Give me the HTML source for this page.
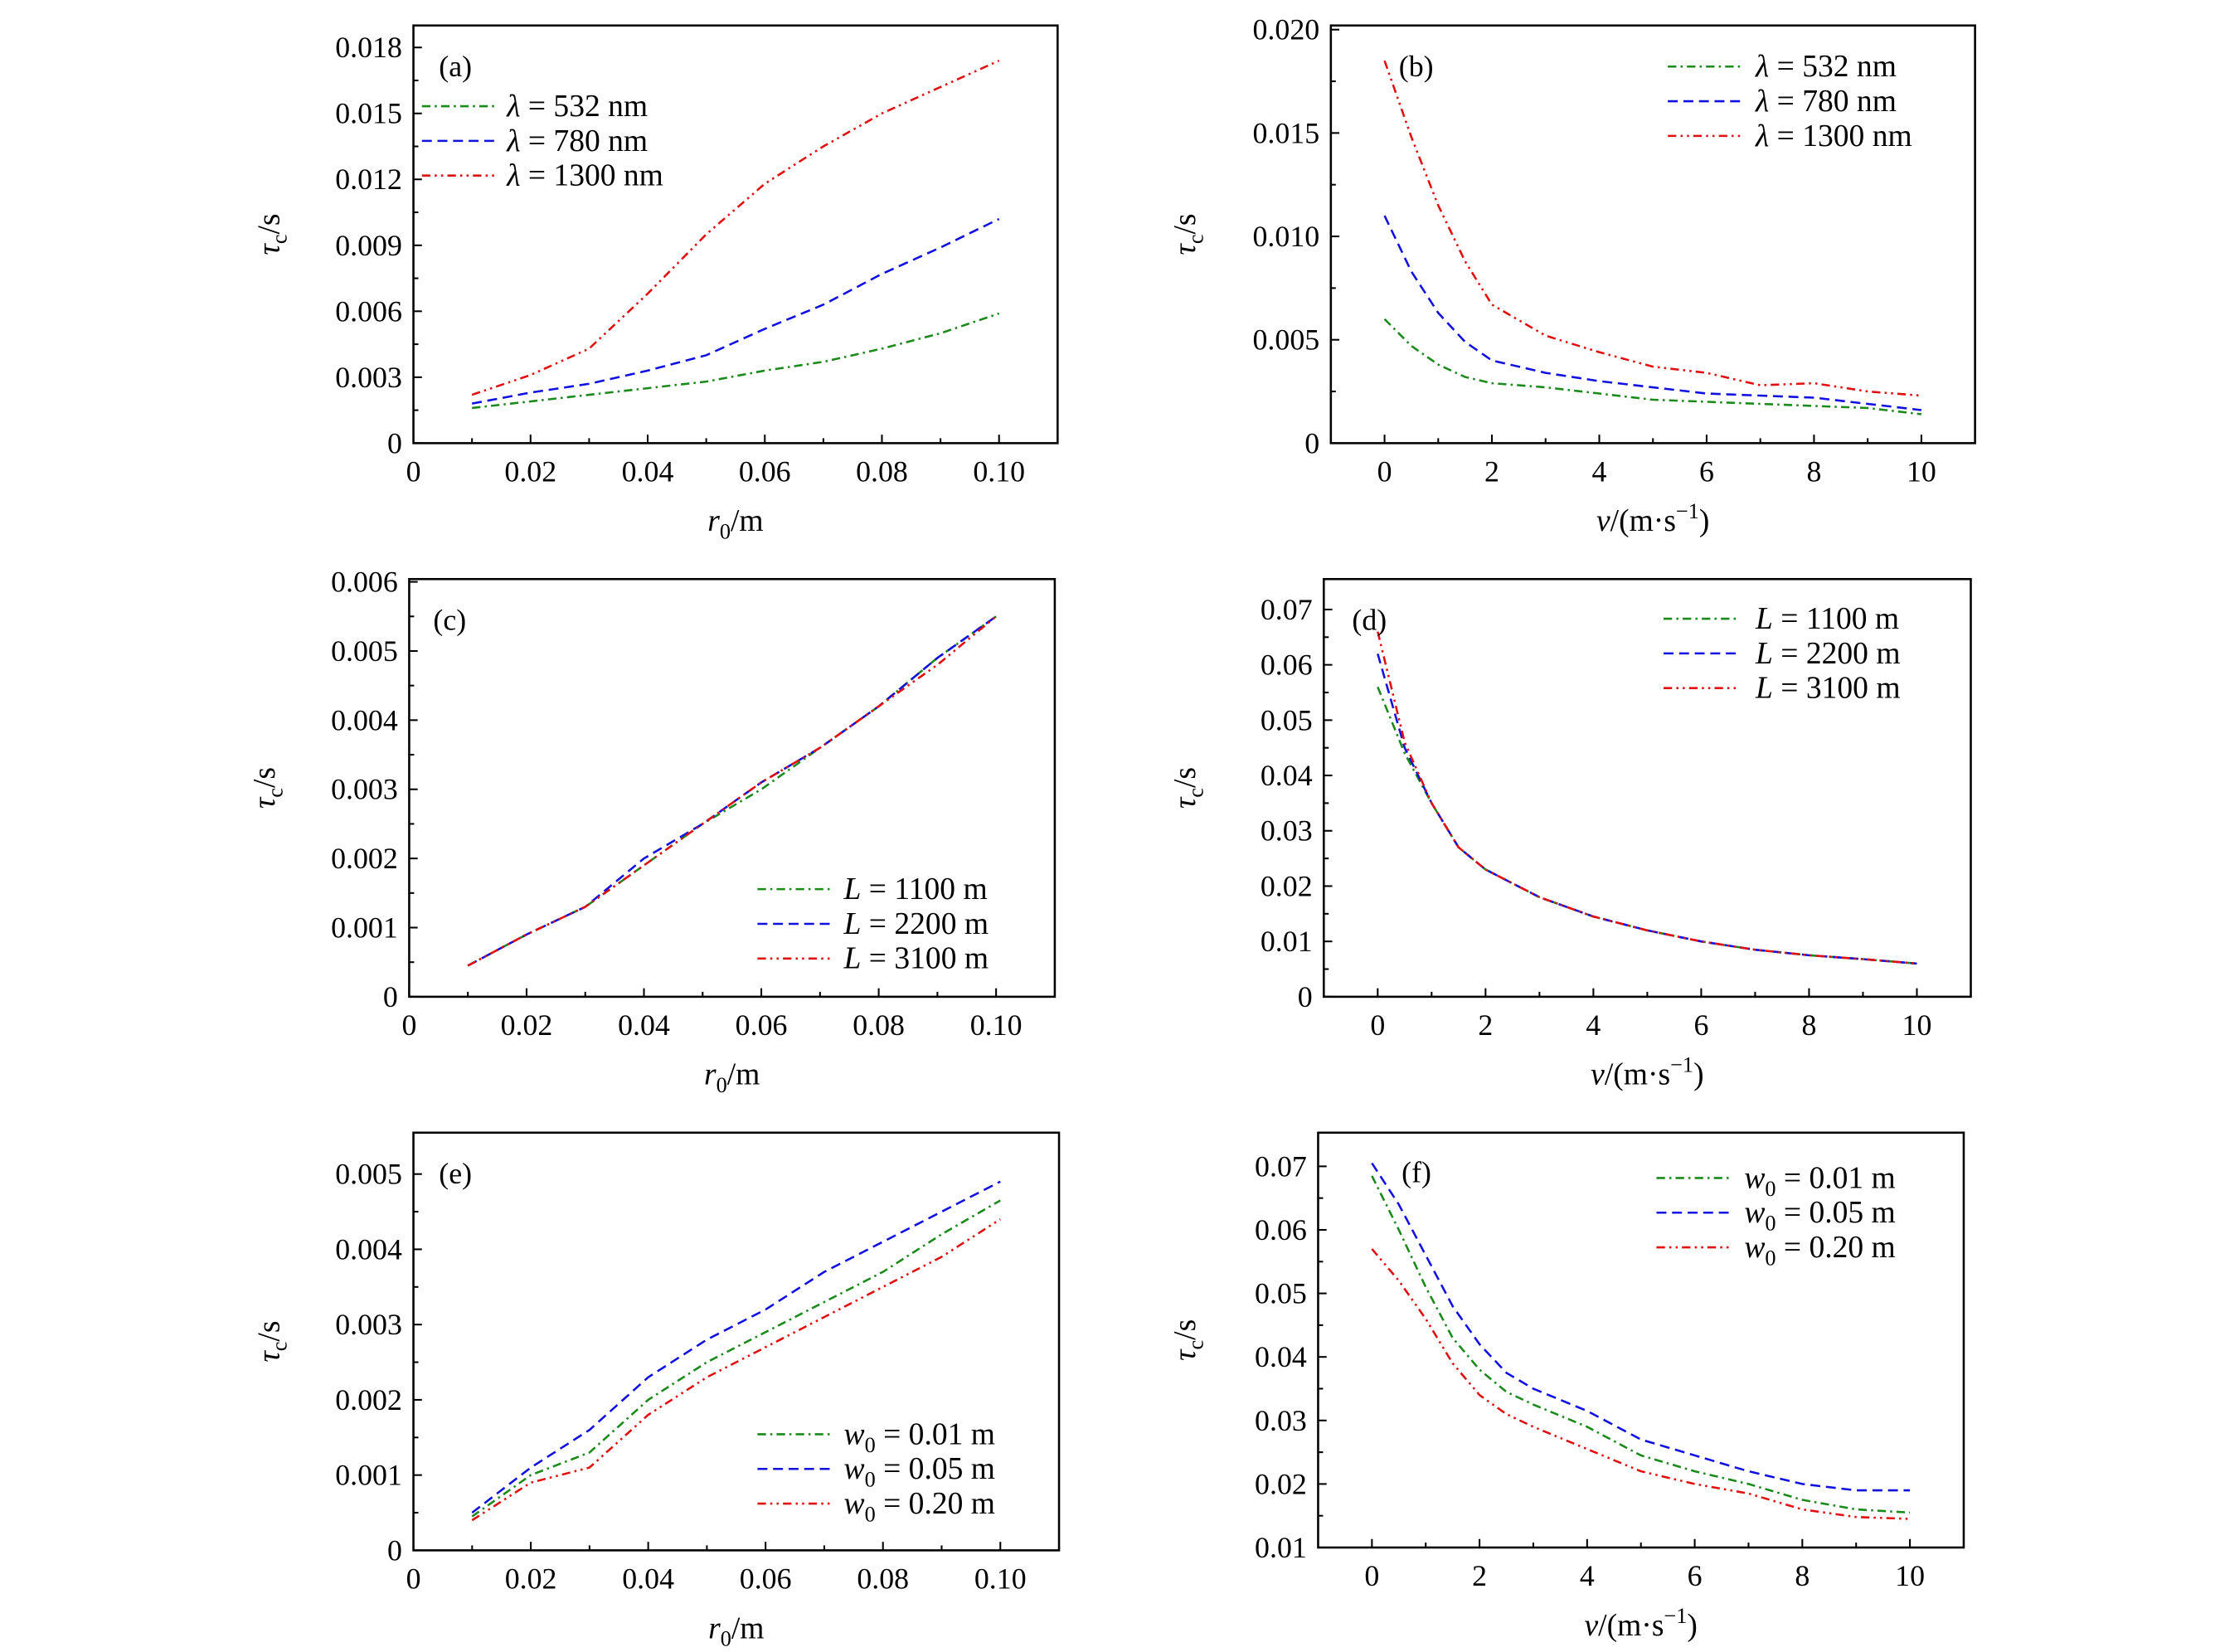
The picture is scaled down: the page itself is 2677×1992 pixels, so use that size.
<!DOCTYPE html>
<html><head><meta charset="utf-8"><style>
html,body{margin:0;padding:0;background:#fff}
svg{display:block}
text{font-family:"Liberation Serif",serif;fill:#000}
</style></head><body>
<svg id="fig" width="2677" height="1992" viewBox="0 0 1568 1166.8" xmlns="http://www.w3.org/2000/svg"></svg>
<script>
// ---- data ----
const rX = [0.01,0.02,0.03,0.04,0.05,0.06,0.07,0.08,0.09,0.10];
const vXb = [0,0.5,1,1.5,2,3,4,5,6,7,8,9,10];
const vXd = [0,0.5,1,1.5,2,3,4,5,6,7,8,9,10];
const vXf = [0,0.5,1,1.5,2,2.5,3,4,5,6,7,8,9,10];
const aGreen = [0.0016,0.0019,0.0022,0.0025,0.0028,0.0033,0.0037,0.0043,0.0050,0.0059];
const aBlue  = [0.0018,0.0023,0.0027,0.0033,0.0040,0.0052,0.0063,0.0077,0.0089,0.0102];
const aRed   = [0.0022,0.0031,0.0043,0.0068,0.0095,0.0118,0.0135,0.0150,0.0162,0.0174];
const bGreen = [0.0060,0.0047,0.0038,0.0032,0.0029,0.0027,0.0024,0.0021,0.0020,0.0019,0.0018,0.0017,0.0014];
const bBlue  = [0.0110,0.0083,0.0063,0.0049,0.0040,0.0034,0.0030,0.0027,0.0024,0.0023,0.0022,0.0019,0.0016];
const bRed   = [0.0185,0.0148,0.0115,0.0088,0.0067,0.0052,0.0044,0.0037,0.0034,0.0028,0.0029,0.0025,0.0023];
const cGreen = [0.00045,0.0009,0.0013,0.0019,0.0025,0.0030,0.0036,0.0042,0.0049,0.0055];
const cBlue  = [0.00045,0.0009,0.0013,0.0020,0.0025,0.0031,0.0036,0.0042,0.0049,0.0055];
const cRed   = [0.00045,0.0009,0.0013,0.0019,0.0025,0.0031,0.0036,0.0042,0.0048,0.0055];
const dGreen = [0.056,0.044,0.035,0.027,0.023,0.018,0.0145,0.012,0.010,0.0085,0.0075,0.0068,0.006];
const dBlue  = [0.062,0.045,0.035,0.027,0.023,0.018,0.0145,0.012,0.010,0.0085,0.0075,0.0068,0.006];
const dRed   = [0.066,0.046,0.035,0.027,0.023,0.018,0.0145,0.012,0.010,0.0085,0.0075,0.0068,0.006];
const eGreen = [0.00045,0.0010,0.0013,0.0020,0.0025,0.0029,0.0033,0.0037,0.0042,0.00465];
const eBlue  = [0.0005,0.0011,0.0016,0.0023,0.0028,0.0032,0.0037,0.0041,0.0045,0.0049];
const eRed   = [0.0004,0.0009,0.0011,0.0018,0.0023,0.0027,0.0031,0.0035,0.0039,0.0044];
const fGreen = [0.0685,0.060,0.051,0.043,0.038,0.0345,0.0325,0.029,0.0245,0.022,0.020,0.0175,0.016,0.0155];
const fBlue  = [0.0705,0.064,0.056,0.048,0.042,0.0375,0.035,0.0315,0.027,0.0245,0.022,0.020,0.019,0.019];
const fRed   = [0.057,0.052,0.046,0.039,0.034,0.031,0.029,0.0255,0.022,0.020,0.0185,0.016,0.0148,0.0145];
const rTicks = [0,0.02,0.04,0.06,0.08,0.10];
const rTickLabels = ["0","0.02","0.04","0.06","0.08","0.10"];
const vTicks = [0,2,4,6,8,10];
const vTickLabels = ["0","2","4","6","8","10"];
const aYTicks = [0,0.003,0.006,0.009,0.012,0.015,0.018];
const aYLabels = ["0","0.003","0.006","0.009","0.012","0.015","0.018"];
const bYTicks = [0,0.005,0.010,0.015,0.020];
const bYLabels = ["0","0.005","0.010","0.015","0.020"];
const cYTicks = [0,0.001,0.002,0.003,0.004,0.005,0.006];
const cYLabels = ["0","0.001","0.002","0.003","0.004","0.005","0.006"];
const dYTicks = [0,0.01,0.02,0.03,0.04,0.05,0.06,0.07];
const dYLabels = ["0","0.01","0.02","0.03","0.04","0.05","0.06","0.07"];
const eYTicks = [0,0.001,0.002,0.003,0.004,0.005];
const eYLabels = ["0","0.001","0.002","0.003","0.004","0.005"];
const fYTicks = [0.01,0.02,0.03,0.04,0.05,0.06,0.07];
const fYLabels = ["0.01","0.02","0.03","0.04","0.05","0.06","0.07"];

const NS="http://www.w3.org/2000/svg";
const svg=document.getElementById('fig');
function mk(tag,attrs,parent){const e=document.createElementNS(NS,tag);for(const k in attrs)e.setAttribute(k,attrs[k]);(parent||svg).appendChild(e);return e;}
const STY={g:{stroke:"#1a8a1a",dash:"6 3 1.5 3"},b:{stroke:"#1010e0",dash:"7 4"},r:{stroke:"#e01010",dash:"6 3 1.5 3 1.5 3"}};

function mathLabel(g,x,y,parts,anchor,size){
  size=size||21;
  const t=mk('text',{x:x,y:y,'font-size':size,'text-anchor':anchor||'start'},g);
  let shift=0;
  parts.forEach(p=>{const s=mk('tspan',{},t);s.textContent=p[0];
    let target=0;
    if(p[1]==='i')s.setAttribute('font-style','italic');
    if(p[1]==='sub'){s.setAttribute('font-size',size*0.7);target=size*0.25;}
    if(p[1]==='sup'){s.setAttribute('font-size',size*0.7);target=-size*0.4;}
    if(target!==shift){s.setAttribute('dy',target-shift);shift=target;}
  });
  return t;
}

function panel(p){
  const g=mk('g',{});
  
  
  const sx=v=>p.L+(v-p.x0)/(p.x1-p.x0)*(p.R-p.L);
  const sy=v=>p.B-(v-p.y0)/(p.y1-p.y0)*(p.B-p.T);
  p.xt.forEach((v,i)=>{
    const tk=mk('line',{x1:sx(v),x2:sx(v),y1:p.B,y2:p.B-6,stroke:'#000','stroke-width':1.2},g);
    
    const tl=mk('text',{x:sx(v),y:p.B+27,'font-size':21,'text-anchor':'middle'},g);tl.textContent=p.xl[i];
    
    if(i<p.xt.length-1){const m=(v+p.xt[i+1])/2;mk('line',{x1:sx(m),x2:sx(m),y1:p.B,y2:p.B-3.5,stroke:'#000','stroke-width':1.2},g);}
  });
  p.yt.forEach((v,i)=>{
    const tk=mk('line',{x1:p.L,x2:p.L+6,y1:sy(v),y2:sy(v),stroke:'#000','stroke-width':1.2},g);
    
    const tl=mk('text',{x:p.L-8,y:sy(v)+7,'font-size':21,'text-anchor':'end'},g);tl.textContent=p.yl[i];
    
    if(i<p.yt.length-1){const m=(v+p.yt[i+1])/2;mk('line',{x1:p.L,x2:p.L+3.5,y1:sy(m),y2:sy(m),stroke:'#000','stroke-width':1.2},g);}
  });
  p.series.forEach(s=>{
    const d=s.x.map((xv,i)=>(i?'L':'M')+sx(xv).toFixed(2)+','+sy(s.y[i]).toFixed(2)).join(' ');
    const pa=mk('path',{d:d,fill:'none',stroke:STY[s.c].stroke,'stroke-width':1.5,'stroke-dasharray':STY[s.c].dash},g);
    
    
  });
  const fr=mk('rect',{x:p.L,y:p.T,width:p.R-p.L,height:p.B-p.T,fill:'none',stroke:'#000','stroke-width':1.5},g);
  
  const pl=mk('text',{x:p.lab[0],y:p.lab[1],'font-size':21},g);pl.textContent='('+p.id+')';
  
  p.series.forEach((s,i)=>{
    const y=p.leg[2]+i*24.5;
    const ln=mk('line',{x1:p.leg[0],x2:p.leg[0]+54,y1:y-7,y2:y-7,stroke:STY[s.c].stroke,'stroke-width':1.5,'stroke-dasharray':STY[s.c].dash},g);
    
    const t=mathLabel(g,p.leg[1],y,s.label,'start',22);
    
  });
  const xt=mathLabel(g,(p.L+p.R)/2,p.B+62,p.xlab,'middle',22);
  
  const yg=mk('g',{transform:'translate('+p.ylx+','+((p.T+p.B)/2)+') rotate(-90)'},g);
  const yt=mathLabel(yg,0,0,[['τ','i'],['c','sub'],['/s','']],'middle',22);
  
}
const rLab=[['r','i'],['0','sub'],['/m','']];
const vLab=[['ν','i'],['/(m·s',''],['−1','sup'],[')','']];
const lam=n=>[['λ','i'],['  =  '+n+'  nm','']];
const Lm=n=>[['L','i'],['  =  '+n+'  m','']];
const wm=n=>[['w','i'],['0','sub'],['  =  '+n+'  m','']];

panel({id:'a',L:292,R:747,T:18,B:313,x0:0,x1:0.11,y0:0,y1:0.019,xt:rTicks,xl:rTickLabels,yt:aYTicks,yl:aYLabels,
 lab:[310,54],leg:[298,358,82],xlab:rLab,ylx:197,
 series:[{name:'532nm',c:'g',x:rX,y:aGreen,label:lam('532')},{name:'780nm',c:'b',x:rX,y:aBlue,label:lam('780')},{name:'1300nm',c:'r',x:rX,y:aRed,label:lam('1300')}]});
panel({id:'b',L:940,R:1395,T:18,B:313,x0:-1,x1:11,y0:0,y1:0.0202,xt:vTicks,xl:vTickLabels,yt:bYTicks,yl:bYLabels,
 lab:[988,54],leg:[1178,1240,54],xlab:vLab,ylx:844,
 series:[{name:'532nm',c:'g',x:vXb,y:bGreen,label:lam('532')},{name:'780nm',c:'b',x:vXb,y:bBlue,label:lam('780')},{name:'1300nm',c:'r',x:vXb,y:bRed,label:lam('1300')}]});
panel({id:'c',L:289,R:745,T:409,B:704,x0:0,x1:0.11,y0:0,y1:0.00604,xt:rTicks,xl:rTickLabels,yt:cYTicks,yl:cYLabels,
 lab:[306,445],leg:[535,596,635],xlab:rLab,ylx:194,
 series:[{name:'L1100',c:'g',x:rX,y:cGreen,label:Lm('1100')},{name:'L2200',c:'b',x:rX,y:cBlue,label:Lm('2200')},{name:'L3100',c:'r',x:rX,y:cRed,label:Lm('3100')}]});
panel({id:'d',L:935,R:1392,T:409,B:704,x0:-1,x1:11,y0:0,y1:0.0755,xt:vTicks,xl:vTickLabels,yt:dYTicks,yl:dYLabels,
 lab:[955,445],leg:[1175,1240,444],xlab:vLab,ylx:844,
 series:[{name:'L1100',c:'g',x:vXd,y:dGreen,label:Lm('1100')},{name:'L2200',c:'b',x:vXd,y:dBlue,label:Lm('2200')},{name:'L3100',c:'r',x:vXd,y:dRed,label:Lm('3100')}]});
panel({id:'e',L:292,R:748,T:800,B:1095,x0:0,x1:0.11,y0:0,y1:0.00555,xt:rTicks,xl:rTickLabels,yt:eYTicks,yl:eYLabels,
 lab:[310,836],leg:[535,596,1020],xlab:rLab,ylx:197,
 series:[{name:'w001',c:'g',x:rX,y:eGreen,label:wm('0.01')},{name:'w005',c:'b',x:rX,y:eBlue,label:wm('0.05')},{name:'w020',c:'r',x:rX,y:eRed,label:wm('0.20')}]});
panel({id:'f',L:931,R:1387,T:800,B:1093,x0:-1,x1:11,y0:0.01,y1:0.0753,xt:vTicks,xl:vTickLabels,yt:fYTicks,yl:fYLabels,
 lab:[990,835],leg:[1170,1232,839],xlab:vLab,ylx:844,
 series:[{name:'w001',c:'g',x:vXf,y:fGreen,label:wm('0.01')},{name:'w005',c:'b',x:vXf,y:fBlue,label:wm('0.05')},{name:'w020',c:'r',x:vXf,y:fRed,label:wm('0.20')}]});
</script>
</body></html>
